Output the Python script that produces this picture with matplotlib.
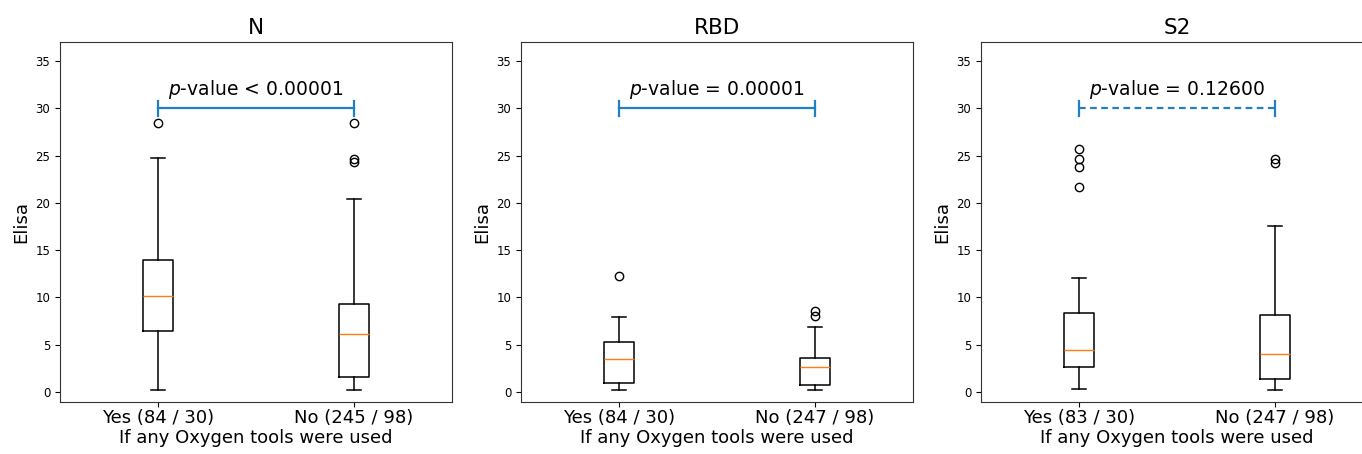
import matplotlib
matplotlib.use('Agg')
import matplotlib.pyplot as plt

# panel titles, group labels and p-values
panels = ['N', 'RBD', 'S2']
group_labels = [
    ['Yes (84 / 30)', 'No (245 / 98)'],
    ['Yes (84 / 30)', 'No (247 / 98)'],
    ['Yes (83 / 30)', 'No (247 / 98)'],
]
p_texts = ['$p$-value < 0.00001', '$p$-value = 0.00001', '$p$-value = 0.12600']
significant = [True, True, False]

# box summaries: [whislo, q1, med, q3, whishi]
n_yes = [0.25, 6.45, 10.1, 13.95, 24.75]
n_no = [0.18, 1.55, 6.1, 9.3, 20.4]
rbd_yes = [0.25, 1.0, 3.45, 5.32, 7.9]
rbd_no = [0.25, 0.74, 2.68, 3.63, 6.9]
s2_yes = [0.32, 2.64, 4.44, 8.39, 12.08]
s2_no = [0.21, 1.34, 3.98, 8.18, 17.58]

n_yes_fliers = [28.4]
n_no_fliers = [28.4, 24.65, 24.3]
rbd_yes_fliers = [12.23]
rbd_no_fliers = [8.57, 8.04]
s2_yes_fliers = [25.7, 24.6, 23.76, 21.68]
s2_no_fliers = [24.6, 24.18]

boxes = [[n_yes, n_no], [rbd_yes, rbd_no], [s2_yes, s2_no]]
fliers = [[n_yes_fliers, n_no_fliers], [rbd_yes_fliers, rbd_no_fliers],
          [s2_yes_fliers, s2_no_fliers]]
bracket_y = 30

W, H = 1362, 454
fig = plt.figure(figsize=(W / 100, H / 100), dpi=100)
lefts = [60, 521, 981]
bracket_color = '#1f80c4'

for i, name in enumerate(panels):
    ax = fig.add_axes([lefts[i] / W, (H - 401.5) / H, 392 / W, 359.5 / H])
    stats = []
    for vals, fl in zip(boxes[i], fliers[i]):
        stats.append({'whislo': vals[0], 'q1': vals[1], 'med': vals[2],
                      'q3': vals[3], 'whishi': vals[4], 'fliers': fl})
    ax.bxp(stats, positions=[1, 2], widths=0.15,
           boxprops=dict(linewidth=1.1), whiskerprops=dict(linewidth=1.1),
           capprops=dict(linewidth=1.1),
           flierprops=dict(marker='o', markerfacecolor='none',
                           markeredgecolor='black', markersize=6))
    ax.set_xlim(0.5, 2.5)
    ax.set_ylim(-1, 37)
    ax.set_yticks([0, 5, 10, 15, 20, 25, 30, 35])
    ax.tick_params(axis='y', labelsize=8.5)
    ax.set_xticks([1, 2])
    ax.set_xticklabels(group_labels[i], fontsize=13)
    ax.tick_params(axis='x', pad=2)
    for sp in ax.spines.values():
        sp.set_edgecolor('#333333')
    ax.set_xlabel('If any Oxygen tools were used', fontsize=13, labelpad=1)
    ax.set_ylabel('Elisa', fontsize=13)
    ax.set_title(name, fontsize=15.5, pad=6)

    ls = '-' if significant[i] else (0, (3, 2))
    ax.plot([1, 2], [bracket_y, bracket_y], color=bracket_color, lw=1.6, ls=ls)
    for xpos in [1, 2]:
        ax.plot([xpos, xpos], [bracket_y - 0.8, bracket_y + 0.8],
                color=bracket_color, lw=1.6)
    ax.text(1.5, bracket_y + 0.75, p_texts[i], ha='center', va='bottom',
            fontsize=13.5)

fig.savefig('out.png', dpi=100)
